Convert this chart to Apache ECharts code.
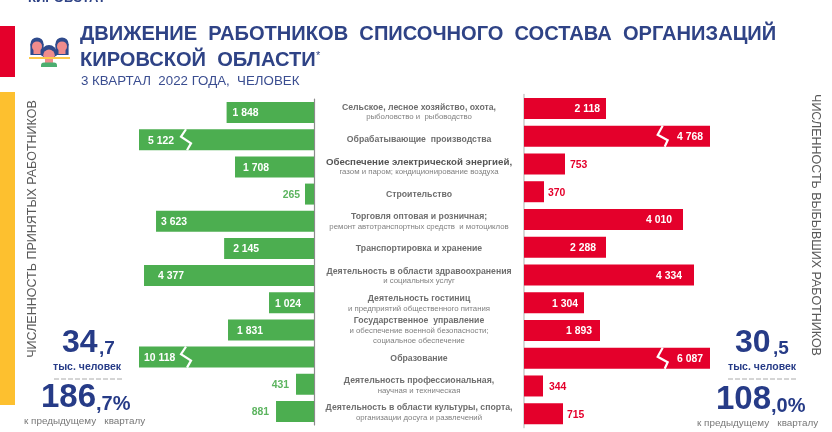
<!DOCTYPE html>
<html><head><meta charset="utf-8">
<style>html,body{margin:0;padding:0;background:#fff}#c{width:832px;height:432px}</style>
<script src="https://cdn.jsdelivr.net/npm/echarts@6/dist/echarts.min.js"></script></head>
<body><div id="c"></div>
<script>
// ---- data ----
const hiredValues = [1848, 5122, 1708, 265, 3623, 2145, 4377, 1024, 1831, 10118, 431, 881];
const leftValues  = [2118, 4768, 753, 370, 4010, 2288, 4334, 1304, 1893, 6087, 344, 715];
// Drawn bar lengths: the original is not to scale and two bars on each side are cut by a break mark.
const hiredDrawn  = [1848, 3700, 1670, 190, 3340, 1900, 3594, 951, 1818, 3700, 380, 803];
const leftDrawn   = [2050, 4650, 1025, 500, 3975, 2050, 4250, 1500, 1900, 4650, 475, 975];
const hiredBreaks = [1, 9];
const leftBreaks  = [1, 9];
const hiredBreakAt = 2685;
const leftBreakAt  = 3467;
const categories = [
  ['Сельское, лесное хозяйство, охота,', 'рыболовство и  рыбоводство'],
  ['Обрабатывающие  производства'],
  ['Обеспечение электрической энергией,', 'газом и паром; кондиционирование воздуха'],
  ['Строительство'],
  ['Торговля оптовая и розничная;', 'ремонт автотранспортных средств  и мотоциклов'],
  ['Транспортировка и хранение'],
  ['Деятельность в области здравоохранения', 'и социальных услуг'],
  ['Деятельность гостиниц', 'и предприятий общественного питания'],
  ['Государственное  управление', 'и обеспечение военной безопасности;', 'социальное обеспечение'],
  ['Образование'],
  ['Деятельность профессиональная,', 'научная и техническая'],
  ['Деятельность в области культуры, спорта,', 'организации досуга и развлечений']
];
const titleLines = ['ДВИЖЕНИЕ  РАБОТНИКОВ  СПИСОЧНОГО  СОСТАВА  ОРГАНИЗАЦИЙ', 'КИРОВСКОЙ  ОБЛАСТИ'];
const subtitle = '3 КВАРТАЛ  2022 ГОДА,  ЧЕЛОВЕК';

// ---- styles ----
const FONT = '"Liberation Sans", Arial, sans-serif';
const GREEN = '#4cae50', RED = '#e4002b', NAVY = '#263b87', TITLE = '#2f4386';
const hiredInset = [6, 9, 8, 5, 5, 9, 14, 6, 9, 5, 7, 7];
const leftInset  = [6, 7, 5, 4, 11, 10, 12, 6, 8, 7, 6, 4];
const fmt = v => String(v).replace(/\B(?=(\d{3})+$)/g, ' ');

const barData = (drawn, values, insetPos, outPos, inset, outColor) =>
  drawn.map((d, i) => {
    const inside = values[i] > 1000;
    return {
      value: d,
      label: {
        show: true, formatter: fmt(values[i]),
        position: inside ? insetPos : outPos,
        distance: inset[i],
        color: inside ? '#fff' : outColor,
        fontFamily: FONT, fontWeight: 'bold', fontSize: 10.4, offset: [0, 1]
      }
    };
  });

const breakSeries = (rows, at, xAxisIndex, yAxisIndex, pts) => ({
  type: 'custom', xAxisIndex, yAxisIndex, z: 5, silent: true,
  data: rows.map(r => [at, r]),
  renderItem: (p, api) => {
    const c = api.coord([api.value(0), api.value(1)]);
    return { type: 'polyline', shape: { points: pts.map(q => [c[0] + q[0], c[1] + q[1]]) },
             style: { stroke: '#fff', fill: null, lineWidth: 2.2 } };
  }
});

const catLabels = categories.map((lines, i) => {
  const head = (i === 2) ? 'd' : 'h';
  return lines.map((l, j) => j === 0 ? `{${head}|${l}}` : `{s|${l}}`).join('\n');
});

const txt = (x, y, text, o) => ({ type: 'text', x, y, silent: true,
  style: Object.assign({ text, fontFamily: FONT, fill: '#000', verticalAlign: 'middle' }, o) });

const person = (x, y, z, k, hair) => ({ type: 'group', x, y, z, silent: true, scaleX: k, scaleY: k, children: [
  { type: 'circle', shape: { cx: 0, cy: 0, r: 6.6 }, style: { fill: '#2f4a8c' } },
  { type: 'rect', shape: { x: -6.6, y: 0, width: 13.2, height: hair }, style: { fill: '#2f4a8c' } },
  { type: 'circle', shape: { cx: 0, cy: 2.4, r: 5 }, style: { fill: '#f08c8c' } },
  { type: 'rect', shape: { x: -3.5, y: 6, width: 7, height: 4 }, style: { fill: '#f08c8c' } }
]});

const graphics = [
  { type: 'rect', shape: { x: 0, y: 26, width: 15, height: 51 }, style: { fill: RED } },
  { type: 'rect', shape: { x: 0, y: 92, width: 15, height: 313 }, style: { fill: '#fdc02f' } },
  txt(28, -2, 'КИРОВСТАТ', { fontSize: 13, fontWeight: 'bold', fill: TITLE }),
  person(37, 44, 2, 1, 11), person(62, 44, 2, 1, 11),
  { type: 'rect', shape: { x: 29, y: 57, width: 41, height: 2 }, style: { fill: '#fdc94a' }, z: 3 },
  person(49, 52.5, 4, 1.15, 3),
  { type: 'rect', shape: { x: 41, y: 62.5, width: 16, height: 4.5, r: [3, 3, 0, 0] }, style: { fill: '#4cae70' }, z: 4 },
  txt(80, 34, titleLines[0], { fontSize: 20.1, fontWeight: 'bold', fill: TITLE }),
  txt(80, 60, titleLines[1], { fontSize: 20.1, fontWeight: 'bold', fill: TITLE }),
  txt(316, 56, '*', { fontSize: 11, fill: TITLE }),
  txt(81, 81, subtitle, { fontSize: 13.3, fill: '#3a4d90' }),
  { type: 'text', x: 33, y: 229, rotation: Math.PI / 2, silent: true,
    style: { text: 'ЧИСЛЕННОСТЬ ПРИНЯТЫХ РАБОТНИКОВ', fontFamily: FONT, fontSize: 12.5, fill: '#595959', align: 'center', verticalAlign: 'middle' } },
  { type: 'text', x: 815, y: 225, rotation: -Math.PI / 2, silent: true,
    style: { text: 'ЧИСЛЕННОСТЬ ВЫБЫВШИХ РАБОТНИКОВ', fontFamily: FONT, fontSize: 12.5, fill: '#595959', align: 'center', verticalAlign: 'middle' } },
  txt(62, 343, '34', { fontSize: 32, fontWeight: 'bold', fill: NAVY }),
  txt(99, 349, ',7', { fontSize: 19, fontWeight: 'bold', fill: NAVY }),
  txt(53, 367, 'тыс. человек', { fontSize: 10.5, fontWeight: 'bold', fill: NAVY }),
  { type: 'line', shape: { x1: 54, y1: 379, x2: 123, y2: 379 }, style: { stroke: '#aaa', lineWidth: 1, lineDash: [5, 2] } },
  txt(41, 398, '186', { fontSize: 33, fontWeight: 'bold', fill: NAVY }),
  txt(96, 404, ',7%', { fontSize: 20, fontWeight: 'bold', fill: NAVY }),
  txt(24, 421, 'к предыдущему   кварталу', { fontSize: 9.9, fill: '#777' }),
  txt(735, 343, '30', { fontSize: 32, fontWeight: 'bold', fill: NAVY }),
  txt(773, 349, ',5', { fontSize: 19, fontWeight: 'bold', fill: NAVY }),
  txt(728, 367, 'тыс. человек', { fontSize: 10.5, fontWeight: 'bold', fill: NAVY }),
  { type: 'line', shape: { x1: 728, y1: 379, x2: 797, y2: 379 }, style: { stroke: '#aaa', lineWidth: 1, lineDash: [5, 2] } },
  txt(716, 400, '108', { fontSize: 33, fontWeight: 'bold', fill: NAVY }),
  txt(771, 406, ',0%', { fontSize: 20, fontWeight: 'bold', fill: NAVY }),
  txt(697, 423, 'к предыдущему   кварталу', { fontSize: 9.9, fill: '#777' })
];

const chart = echarts.init(document.getElementById('c'), null, { renderer: 'canvas' });
chart.setOption({
  animation: false,
  backgroundColor: '#fff',
  grid: [
    { left: 139, width: 175, top: 99, height: 326 },
    { left: 524, width: 186, top: 94.6, height: 333 },
    { left: 419, width: 1, top: 98.5, height: 328 }
  ],
  xAxis: [
    { gridIndex: 0, type: 'value', min: 0, max: 3700, inverse: true, show: false },
    { gridIndex: 1, type: 'value', min: 0, max: 4650, show: false },
    { gridIndex: 2, type: 'value', min: 0, max: 1, show: false }
  ],
  yAxis: [
    { gridIndex: 0, type: 'category', inverse: true, position: 'right', data: categories.map(c => c[0]),
      axisLine: { show: true, onZero: false, lineStyle: { color: '#8c8c8c', width: 1.2 } }, axisTick: { show: false }, axisLabel: { show: false } },
    { gridIndex: 1, type: 'category', inverse: true, position: 'left', data: categories.map(c => c[0]),
      axisLine: { show: true, onZero: false, lineStyle: { color: '#cfcfcf', width: 1.6 } }, axisTick: { show: false }, axisLabel: { show: false } },
    { gridIndex: 2, type: 'category', inverse: true, position: 'left', data: catLabels,
      axisLine: { show: false }, axisTick: { show: false },
      axisLabel: { show: true, interval: 0, margin: 0, align: 'center', verticalAlign: 'middle',
        rich: {
          h: { fontFamily: FONT, fontWeight: 'bold', fontSize: 8.7, color: '#6e6e6e', lineHeight: 10, align: 'center' },
          d: { fontFamily: FONT, fontWeight: 'bold', fontSize: 9.7, color: '#555', lineHeight: 10, align: 'center' },
          s: { fontFamily: FONT, fontSize: 7.8, color: '#808080', lineHeight: 10, align: 'center' }
        } } }
  ],
  series: [
    { type: 'bar', xAxisIndex: 0, yAxisIndex: 0, barWidth: 21, itemStyle: { color: GREEN },
      data: barData(hiredDrawn, hiredValues, 'insideLeft', 'left', hiredInset, '#5cb45f') },
    { type: 'bar', xAxisIndex: 1, yAxisIndex: 1, barWidth: 21, itemStyle: { color: RED },
      data: barData(leftDrawn, leftValues, 'insideRight', 'right', leftInset, RED) },
    breakSeries(hiredBreaks, hiredBreakAt, 0, 0, [[-1, -10.5], [-6, -3], [4, 3.5], [0, 10.5]]),
    breakSeries(leftBreaks, leftBreakAt, 1, 1, [[0, -10.5], [-5, -1.5], [5, 4], [2, 10.5]])
  ],
  graphic: { elements: graphics }
});
</script></body></html>
